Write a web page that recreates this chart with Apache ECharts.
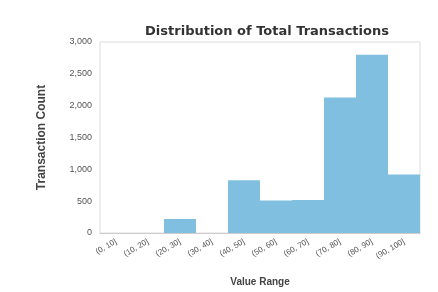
<!DOCTYPE html>
<html>
<head>
    <meta charset="utf-8">
    <title>ECharts</title>
    <script src="https://cdn.jsdelivr.net/npm/echarts@6/dist/echarts.min.js"></script>
</head>
<body style="margin:0">
<div id="main" style="width: 438px;height:292px;"></div>
<script type="text/javascript">
    // bins and counts
    var binLabels = ['(0, 10]', '(10, 20]', '(20, 30]', '(30, 40]', '(40, 50]', '(50, 60]', '(60, 70]', '(70, 80]', '(80, 90]', '(90, 100]'];
    var counts = [0, 0, 220, 0, 830, 510, 520, 2130, 2800, 920];
    var yTicks = [0, 500, 1000, 1500, 2000, 2500, 3000];

    var myChart = echarts.init(document.getElementById('main'));

    var option = {
        animation: false,
        title: {
            text: 'Distribution of Total Transactions',
            left: 262,
            textAlign: 'center',
            top: 20,
            textStyle: { fontSize: 13, fontWeight: 'bold', color: '#333', fontFamily: 'DejaVu Sans' }
        },
        grid: { left: 100, right: 18, top: 42, bottom: 56, show: true, borderColor: '#ddd', borderWidth: 1 },
        xAxis: {
            type: 'category',
            data: binLabels,
            name: 'Value Range',
            nameLocation: 'middle',
            nameGap: 44,
            nameTextStyle: { fontSize: 10, color: '#444', fontWeight: 'bold' },
            axisTick: { show: false },
            axisLine: { lineStyle: { color: '#ccc' } },
            axisLabel: { rotate: 30, fontSize: 8, color: '#555', interval: 0 }
        },
        yAxis: {
            type: 'value',
            min: yTicks[0],
            max: yTicks[yTicks.length - 1],
            interval: yTicks[1] - yTicks[0],
            name: 'Transaction Count',
            nameLocation: 'middle',
            nameGap: 52,
            nameTextStyle: { fontSize: 12, color: '#444', fontWeight: 'bold' },
            axisLabel: { fontSize: 9, color: '#555', margin: 8 },
            splitLine: { show: false },
            axisLine: { show: false },
            axisTick: { show: false }
        },
        series: [{
            type: 'bar',
            data: counts,
            barCategoryGap: 0,
            itemStyle: { color: '#80bfe0' }
        }]
    };
    myChart.setOption(option);
</script>
</body>
</html>
